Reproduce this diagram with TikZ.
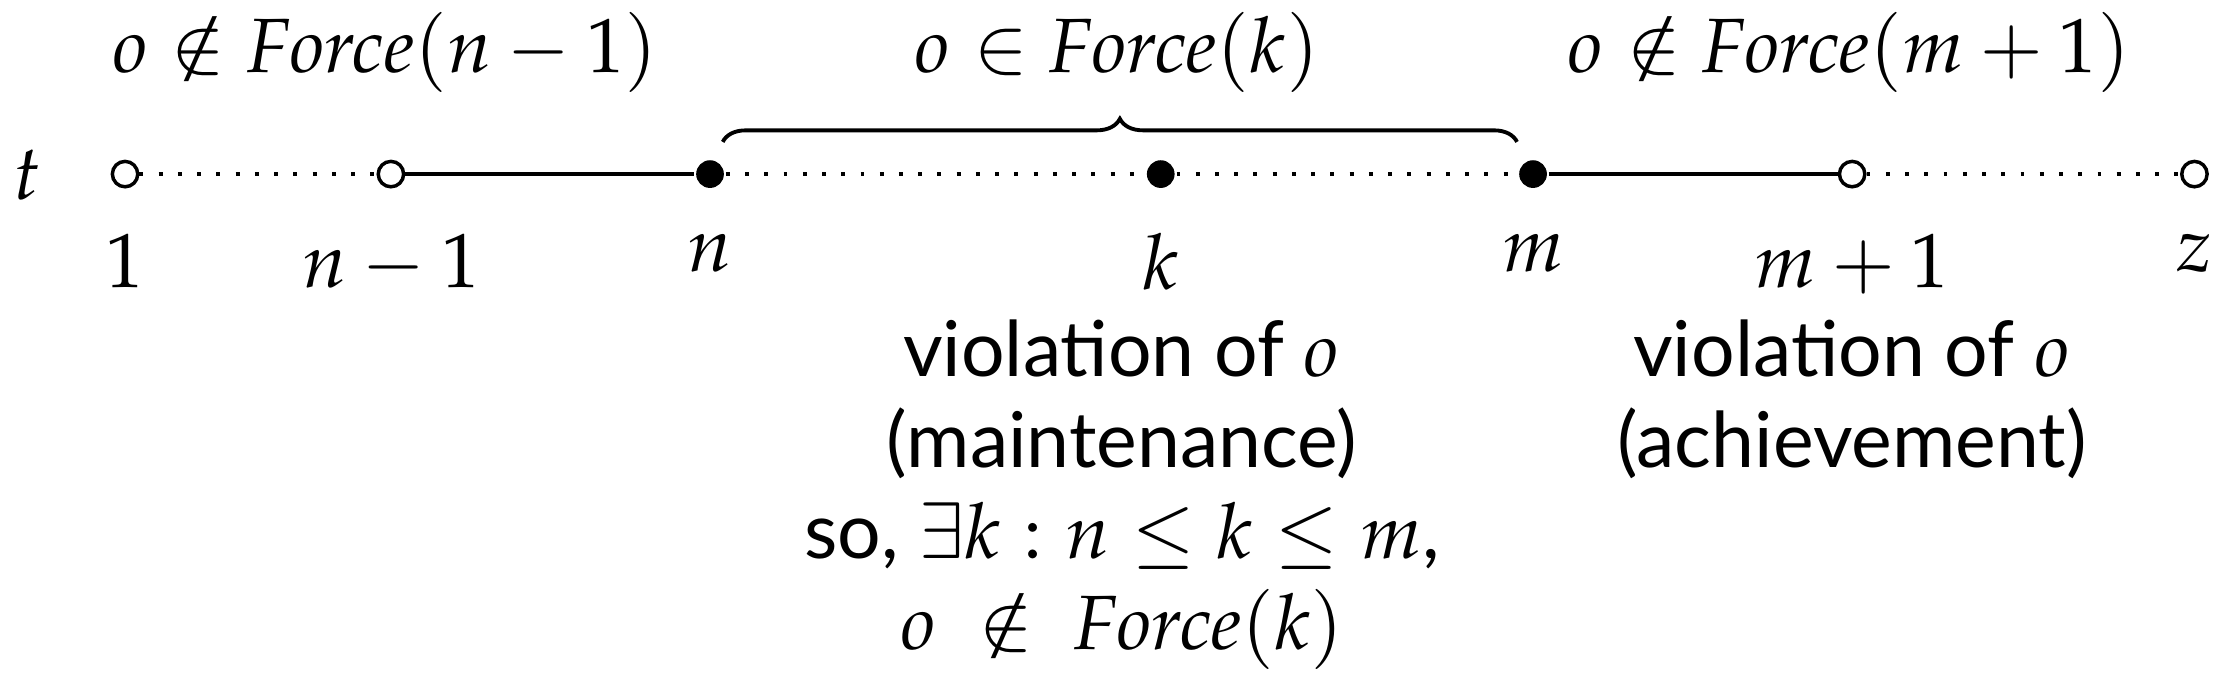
\documentclass[tikz,border=0pt]{standalone}
\usepackage{mathpazo}
\usepackage[no-math]{fontspec}
\setsansfont{Lato}
\usetikzlibrary{decorations.pathreplacing,positioning}

\tikzset{
	opendot/.style={circle, draw, line width=0.45pt, fill=white, inner sep=0pt, minimum size=3.3pt},
	fulldot/.style={circle, fill, inner sep=0pt, minimum size=3.6pt},
	ptlabel/.style={anchor=north},
	note/.style={anchor=base, font=\sffamily},
}
\newcommand{\frc}{\mathit{Force}}

\begin{document}
\begin{tikzpicture}[line width=0.5pt]
	\useasboundingbox (0,0) rectangle (10.219,-3.137);
	\node[anchor=base] (tlab) at (0.123,-0.909) {$t$};
	\node[opendot] (p1) at (0.571,-0.795) {};
	\node[opendot] (pn1) at (1.785,-0.795) {};
	\node[fulldot] (pn) at (3.242,-0.795) {};
	\node[fulldot] (pk) at (5.300,-0.795) {};
	\node[fulldot] (pm) at (7.000,-0.795) {};
	\node[opendot] (pm1) at (8.457,-0.795) {};
	\node[opendot] (pz) at (10.020,-0.795) {};
	\draw[dotted] (p1) -- (pn1);
	\draw (pn1) -- (pn);
	\draw[dotted] (pn) -- (pk);
	\draw[dotted] (pk) -- (pm);
	\draw (pm) -- (pm1);
	\draw[dotted] (pm1) -- (pz);
	\node[ptlabel] (l1) at (0.571,-0.942) {$1$};
	\node[ptlabel] (ln1) at (1.785,-0.942) {$n-1$};
	\node[ptlabel] (ln) at (3.242,-0.942) {$n$};
	\node[ptlabel] (lk) at (5.300,-0.942) {$k$};
	\node[ptlabel] (lm) at (7.000,-0.942) {$m$};
	\node[ptlabel] (lm1) at (8.457,-0.942) {$m+1$};
	\node[ptlabel] (lz) at (10.020,-0.942) {$z$};
	\draw[decorate, decoration={brace, amplitude=3pt}] (3.300,-0.648) -- (6.927,-0.648);
	\node[anchor=base] (fn1) at (1.758,-0.329) {$o \notin \frc(n-1)$};
	\node[anchor=base] (fk) at (5.100,-0.329) {$o \in \frc(k)$};
	\node[anchor=base] (fm1) at (8.443,-0.329) {$o \notin \frc(m+1)$};
	\node[note] (vk1) at (5.123,-1.717) {violation of $o$};
	\node[note] (vk2) at (5.123,-2.133) {(maintenance)};
	\node[note] (vk3) at (5.123,-2.548) {so, $\exists k : n \leq k \leq m$,};
	\node[note] (vk4) at (5.123,-2.964) {$o\ \notin\ \frc(k)$};
	\node[note] (vm1) at (8.457,-1.717) {violation of $o$};
	\node[note] (vm2) at (8.457,-2.133) {(achievement)};
\end{tikzpicture}
\end{document}
